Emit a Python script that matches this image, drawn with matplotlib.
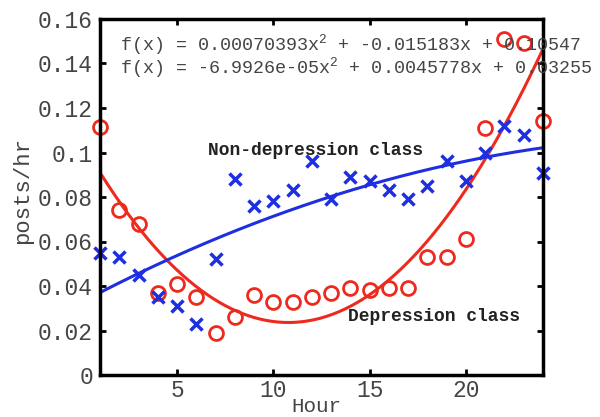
import numpy as np
import matplotlib
matplotlib.use("Agg")
import matplotlib.pyplot as plt

hours = list(range(1, 25))
depression = [0.1115, 0.074, 0.068, 0.037, 0.041, 0.035, 0.019, 0.026, 0.036, 0.033,
              0.033, 0.035, 0.037, 0.039, 0.038, 0.039, 0.039, 0.053, 0.053, 0.061,
              0.111, 0.151, 0.149, 0.114]
non_depression = [0.055, 0.053, 0.045, 0.035, 0.031, 0.023, 0.052, 0.088, 0.076, 0.078,
                  0.083, 0.096, 0.079, 0.089, 0.087, 0.083, 0.079, 0.085, 0.096, 0.087,
                  0.100, 0.112, 0.108, 0.091]
dep_coef = [0.00070393, -0.015183, 0.10547]
nondep_coef = [-6.9926e-05, 0.0045778, 0.03255]
eq_lines = ["f(x) = 0.00070393x$^{2}$ + -0.015183x + 0.10547",
            "f(x) = -6.9926e-05x$^{2}$ + 0.0045778x + 0.03255"]
xticks = [5, 10, 15, 20]
yticks = [0, 0.02, 0.04, 0.06, 0.08, 0.1, 0.12, 0.14, 0.16]
ytick_labels = ["0", "0.02", "0.04", "0.06", "0.08", "0.1", "0.12", "0.14", "0.16"]

RED = "#ee2a1e"
BLUE = "#1d2fe0"
MONO = "Liberation Mono"
plt.rcParams['mathtext.fontset'] = 'custom'
plt.rcParams['mathtext.rm'] = MONO
plt.rcParams['mathtext.it'] = MONO

fig = plt.figure(figsize=(6, 4.17), dpi=100)
ax = fig.add_axes([100/600, 1-375/417, 443/600, 356/417])

xs = np.linspace(1, 24, 300)
ax.plot(xs, np.polyval(dep_coef, xs), color=RED, lw=2.2)
ax.plot(xs, np.polyval(nondep_coef, xs), color=BLUE, lw=2.2)
ax.plot(hours, depression, 'o', mfc='none', mec=RED, mew=2, ms=10, clip_on=False)
ax.plot(hours, non_depression, 'x', color=BLUE, mew=2.5, ms=9, clip_on=False)

ax.set_xlim(1, 24)
ax.set_ylim(0, 0.16)
ax.set_xticks(xticks)
ax.set_yticks(yticks)
ax.set_yticklabels(ytick_labels)
ax.tick_params(direction='in', length=4, width=2, top=True, right=True,
               labelsize=16.5, labelcolor='#444444', pad=5)
ax.tick_params(axis='x', pad=3)
for lab in ax.get_xticklabels() + ax.get_yticklabels():
    lab.set_family(MONO)
for s in ax.spines.values():
    s.set_linewidth(2.5)

ax.set_ylabel("posts/hr", family=MONO, fontsize=16, color='#444444')
ax.yaxis.label.set_va('center')
ax.yaxis.set_label_coords((23-100)/443, (375-191)/356, transform=ax.transAxes)
ax.set_xlabel("Hour", family=MONO, fontsize=15, color='#444444')
ax.xaxis.set_label_coords((316-100)/443, -(416-375)/356, transform=ax.transAxes)
ax.xaxis.label.set_va('bottom')

ax.text(0.045, 0.927, eq_lines[0], transform=ax.transAxes, family=MONO,
        fontsize=13.2, color='#444444', va='center')
ax.text(0.045, 0.862, eq_lines[1], transform=ax.transAxes, family=MONO,
        fontsize=13.2, color='#444444', va='center')
ax.text(6.6, 0.101, "Non-depression class", family=MONO, fontweight='bold',
        fontsize=13, color='#222222', va='center')
ax.text(13.9, 0.0265, "Depression class", family=MONO, fontweight='bold',
        fontsize=13, color='#222222', va='center')

fig.savefig("out.png", dpi=100)
